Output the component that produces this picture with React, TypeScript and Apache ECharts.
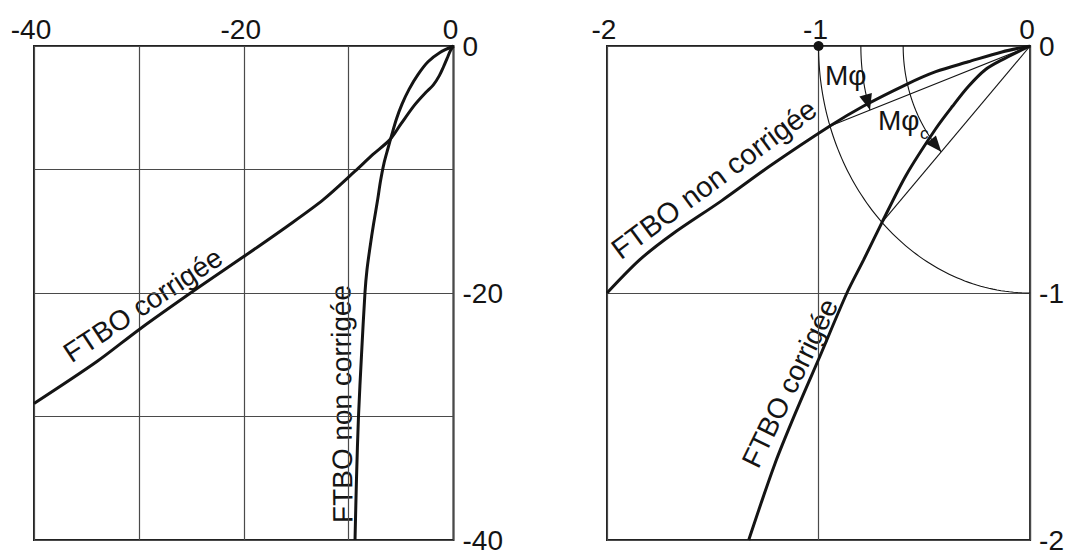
import { useEffect, useRef } from "react";
import * as echarts from "echarts";

// Left panel: uncorrected and corrected FTBO loci (x, y)
const leftUncorrected: [number, number][] = [
  [0, 0], [-1.29, -0.52], [-2.43, -1.28], [-3.39, -2.32], [-4.24, -3.51],
  [-4.91, -4.71], [-5.44, -5.91], [-5.86, -7.11], [-6.25, -8.3], [-6.63, -9.5],
  [-6.96, -10.94], [-7.25, -12.54], [-7.63, -14.45], [-7.96, -16.29], [-8.25, -18.12],
  [-8.44, -19.96], [-8.77, -25.0], [-9.06, -30.0], [-9.25, -35.05], [-9.39, -40],
];
const leftCorrected: [number, number][] = [
  [0, 0], [-0.29, -0.36], [-0.57, -0.93], [-0.95, -1.68], [-1.35, -2.4],
  [-1.92, -3.15], [-2.67, -3.79], [-3.72, -4.79], [-5.01, -6.31], [-6.06, -7.58],
  [-7.68, -8.78], [-9.39, -10.14], [-12.44, -12.46], [-15.88, -14.61], [-20.07, -17.09],
  [-24.46, -19.64], [-29.9, -22.91], [-34, -25.55], [-40, -28.95],
];

// Right panel: the same loci on a normalised scale
const rightUncorrected: [number, number][] = [
  [0, 0], [-0.133, -0.024], [-0.292, -0.064], [-0.446, -0.104], [-0.586, -0.156],
  [-0.787, -0.243], [-0.948, -0.325], [-1.225, -0.483], [-1.459, -0.627],
  [-1.692, -0.762], [-1.846, -0.866], [-2, -1],
];
const rightCorrected: [number, number][] = [
  [0, 0], [-0.133, -0.056], [-0.212, -0.096], [-0.292, -0.164], [-0.366, -0.243],
  [-0.446, -0.335], [-0.586, -0.523], [-0.7, -0.714], [-0.787, -0.866], [-0.866, -1.0],
  [-0.992, -1.253], [-1.099, -1.465], [-1.207, -1.693], [-1.33, -2.0],
];

// Chords from the origin to where each locus meets the unit circle
const chordUncorrected: [number, number][] = [[0, 0], [-0.948, -0.325]];
const chordCorrected: [number, number][] = [[0, 0], [-0.7, -0.714]];
const unitPoint: [number, number][] = [[-1, 0]];

// Arcs centred on the origin: radius and the chord they end on (null = quarter circle)
const arcRadii = [1, 0.8, 0.6];
const arcTargets: ([number, number][] | null)[] = [null, chordUncorrected, chordCorrected];

const leftLabelStep = 20;
const rightLabelStep = 1;

const FONT = "'Liberation Sans', Arial, Helvetica, sans-serif";
const INK = "#141414";
const GRIDLINE = "#4a4a4a";

function endAngle(target: [number, number][] | null): number {
  if (!target) return 90;
  const [x, y] = target[target.length - 1];
  return (Math.atan2(-y, -x) * 180) / Math.PI;
}

export default function App() {
  const ref = useRef<HTMLDivElement>(null);

  useEffect(() => {
    if (!ref.current) return;
    const chart = echarts.init(ref.current, undefined, { renderer: "svg" });

    const labelStyle = {
      fontFamily: FONT,
      fontSize: 28,
      color: INK,
      showMinLabel: true,
      showMaxLabel: true,
    };
    const split = { show: true, lineStyle: { color: GRIDLINE, width: 1.2 } };
    const fmt = (step: number) => (v: number) =>
      Math.abs(v % step) < 1e-9 ? String(Math.round(v * 1000) / 1000) : "";

    const thick = { color: INK, width: 3 };
    const thin = { color: INK, width: 1.1 };

    const arcData = arcRadii.map((r, i) => [r, endAngle(arcTargets[i]), arcTargets[i] ? 1 : 0]);

    const option: any = {
      animation: false,
      grid: [
        { left: 34, top: 46, width: 419.5, height: 501, show: true, borderColor: "#222", borderWidth: 2 },
        { left: 607, top: 46, width: 428.5, height: 501, show: true, borderColor: "#222", borderWidth: 2 },
      ],
      xAxis: [
        {
          gridIndex: 0, type: "value", position: "top", min: -40, max: 0, interval: 10,
          axisLine: { show: false }, axisTick: { show: false }, splitLine: split,
          axisLabel: { ...labelStyle, margin: 3, padding: [0, 6, 0, 0], formatter: fmt(leftLabelStep) },
        },
        {
          gridIndex: 1, type: "value", position: "top", min: -2, max: 0, interval: 1,
          axisLine: { show: false }, axisTick: { show: false }, splitLine: split,
          axisLabel: { ...labelStyle, margin: 3, padding: [0, 6, 0, 0], formatter: fmt(rightLabelStep) },
        },
      ],
      yAxis: [
        {
          gridIndex: 0, type: "value", position: "right", min: -40, max: 0, interval: 10,
          axisLine: { show: false }, axisTick: { show: false }, splitLine: split,
          axisLabel: { ...labelStyle, margin: 9, formatter: fmt(leftLabelStep) },
        },
        {
          gridIndex: 1, type: "value", position: "right", min: -2, max: 0, interval: 1,
          axisLine: { show: false }, axisTick: { show: false }, splitLine: split,
          axisLabel: { ...labelStyle, margin: 9, formatter: fmt(rightLabelStep) },
        },
      ],
      series: [
        { type: "line", xAxisIndex: 0, yAxisIndex: 0, data: leftUncorrected, smooth: 0.3, showSymbol: false, lineStyle: thick },
        { type: "line", xAxisIndex: 0, yAxisIndex: 0, data: leftCorrected, smooth: 0.3, showSymbol: false, lineStyle: thick },
        { type: "line", xAxisIndex: 1, yAxisIndex: 1, data: rightUncorrected, smooth: 0.3, showSymbol: false, lineStyle: thick },
        { type: "line", xAxisIndex: 1, yAxisIndex: 1, data: rightCorrected, smooth: 0.3, showSymbol: false, lineStyle: thick },
        { type: "line", xAxisIndex: 1, yAxisIndex: 1, data: chordUncorrected, showSymbol: false, lineStyle: thin },
        { type: "line", xAxisIndex: 1, yAxisIndex: 1, data: chordCorrected, showSymbol: false, lineStyle: thin },
        {
          type: "scatter", xAxisIndex: 1, yAxisIndex: 1, data: unitPoint,
          symbol: "circle", symbolSize: 10, itemStyle: { color: INK, opacity: 1 }, z: 5,
        },
        {
          type: "custom", xAxisIndex: 1, yAxisIndex: 1, data: arcData, z: 4,
          renderItem: (_params: any, api: any) => {
            const r = api.value(0) as number;
            const end = api.value(1) as number;
            const withArrow = api.value(2) === 1;
            const n = 80;
            const pts: number[][] = [];
            for (let i = 0; i <= n; i++) {
              const t = ((end * i) / n) * (Math.PI / 180);
              pts.push(api.coord([-r * Math.cos(t), -r * Math.sin(t)]));
            }
            const children: any[] = [
              { type: "polyline", shape: { points: pts }, style: { stroke: INK, lineWidth: 1.1, fill: null } },
            ];
            if (withArrow) {
              const tip = pts[n];
              const prev = pts[n - 4];
              let dx = tip[0] - prev[0];
              let dy = tip[1] - prev[1];
              const len = Math.hypot(dx, dy) || 1;
              dx /= len; dy /= len;
              const L = 16, W = 6.5;
              const bx = tip[0] - dx * L, by = tip[1] - dy * L;
              children.push({
                type: "polygon",
                shape: { points: [tip, [bx - dy * W, by + dx * W], [bx + dy * W, by - dx * W]] },
                style: { fill: INK },
              });
            }
            return { type: "group", children };
          },
        },
      ],
      graphic: [
        {
          type: "text", x: 143, y: 305, rotation: (33.4 * Math.PI) / 180,
          style: { text: "FTBO corrigée", font: `28px ${FONT}`, fill: INK, align: "center", verticalAlign: "middle" },
        },
        {
          type: "text", x: 342, y: 404, rotation: (90.5 * Math.PI) / 180,
          style: { text: "FTBO non corrigée", font: `28px ${FONT}`, fill: INK, align: "center", verticalAlign: "middle" },
        },
        {
          type: "text", x: 714, y: 179, rotation: (36.5 * Math.PI) / 180,
          style: { text: "FTBO non corrigée", font: `29px ${FONT}`, fill: INK, align: "center", verticalAlign: "middle" },
        },
        {
          type: "text", x: 790, y: 383, rotation: (64 * Math.PI) / 180,
          style: { text: "FTBO corrigée", font: `28px ${FONT}`, fill: INK, align: "center", verticalAlign: "middle" },
        },
        {
          type: "text", x: 825, y: 75,
          style: { text: "Mφ", font: `28px ${FONT}`, fill: INK, align: "left", verticalAlign: "middle" },
        },
        {
          type: "text", x: 878, y: 120,
          style: { text: "Mφ", font: `28px ${FONT}`, fill: INK, align: "left", verticalAlign: "middle" },
        },
        {
          type: "text", x: 920, y: 133,
          style: { text: "c", font: `17px ${FONT}`, fill: INK, align: "left", verticalAlign: "middle" },
        },
      ],
    };

    chart.setOption(option);
    return () => chart.dispose();
  }, []);

  return (
    <div
      ref={ref}
      style={{ position: "absolute", left: 0, top: 0, width: 1067, height: 554, background: "#fff" }}
    />
  );
}
